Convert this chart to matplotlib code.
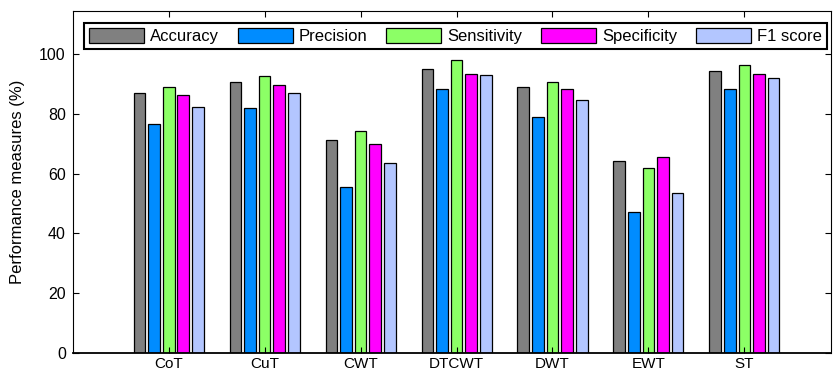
import matplotlib.pyplot as plt
import numpy as np

plt.rcParams["font.family"] = ["Liberation Sans", "DejaVu Sans"]

methods = ["CoT", "CuT", "CWT", "DTCWT", "DWT", "EWT", "ST"]
metrics = ["Accuracy", "Precision", "Sensitivity", "Specificity", "F1 score"]

accuracy = [87.1, 90.8, 71.4, 95.0, 89.0, 64.1, 94.5]
precision = [76.6, 82.0, 55.4, 88.3, 79.1, 47.3, 88.3]
sensitivity = [89.0, 92.6, 74.3, 98.2, 90.8, 61.9, 96.4]
specificity = [86.5, 89.7, 69.9, 93.5, 88.3, 65.6, 93.5]
f1_score = [82.4, 87.1, 63.7, 93.2, 84.6, 53.5, 92.0]

colors = ["#808080", "#008cff", "#8cff66", "#ff00ff", "#b3c6ff"]
series = [accuracy, precision, sensitivity, specificity, f1_score]

fig = plt.figure(figsize=(8.33, 3.73), dpi=100)
ax = fig.add_axes([0.0873, 0.0544, 0.910, 0.916])

x = np.arange(1, len(methods) + 1)
step = 0.152
width = 0.122
for i, (vals, name, c) in enumerate(zip(series, metrics, colors)):
    ax.bar(x + (i - 2) * step, vals, width, color=c, edgecolor="black",
           linewidth=0.9, label=name)

ax.set_xlim(0, 7.9)
ax.set_ylim(0, 114.5)
ax.set_xticks(x)
ax.set_xticklabels(methods)
ax.set_yticks(range(0, 101, 20))
ax.tick_params(direction="in", top=True, right=True, labelsize=11.5, length=4)
ax.tick_params(axis="y", pad=5)
ax.tick_params(axis="x", pad=3, labelsize=11)
ax.set_ylabel("Performance measures (%)", fontsize=12, labelpad=10)
for s in ax.spines.values():
    s.set_linewidth(0.8)
ax.spines["bottom"].set_linewidth(1.3)

leg = ax.legend(ncol=5, loc="lower left", bbox_to_anchor=(0.015, 0.889, 0.98, 0.088),
                mode="expand", borderaxespad=0, fontsize=12, fancybox=False,
                handlelength=3.3, handleheight=1.0, handletextpad=0.35,
                columnspacing=0.8, borderpad=0.3, framealpha=1)
leg.get_frame().set_edgecolor("black")
leg.get_frame().set_linewidth(1.5)

fig.savefig("out.png", dpi=100)
